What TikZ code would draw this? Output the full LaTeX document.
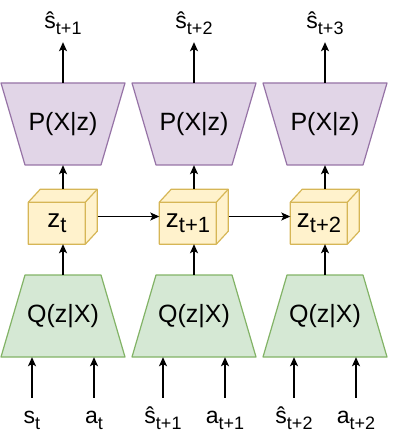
\documentclass[tikz,border=0pt]{standalone}
\usepackage{fontspec}
\setmainfont{Liberation Sans}
\usetikzlibrary{arrows.meta}

\definecolor{pfill}{HTML}{E1D5E7}
\definecolor{pstroke}{HTML}{9673A6}
\definecolor{qfill}{HTML}{D5E8D4}
\definecolor{qstroke}{HTML}{82B366}
\definecolor{zfill}{HTML}{FFF2CC}
\definecolor{zstroke}{HTML}{D6B656}

% subscripts as text
\newcommand{\lsub}[1]{\raisebox{-6pt}{\fontsize{18}{18}\selectfont #1}}
\newcommand{\zsub}[1]{\raisebox{-5pt}{\fontsize{22}{22}\selectfont #1}}

\tikzset{
  trapbox/.style={minimum width=124pt, minimum height=82pt, inner sep=0pt,
    font=\fontsize{25}{30}\selectfont},
  pface/.style={draw=pstroke, fill=pfill, line width=1.2pt, line join=round},
  qface/.style={draw=qstroke, fill=qfill, line width=1.2pt, line join=round},
  zcube/.style={minimum width=69pt, minimum height=55pt, inner sep=0pt},
  zface/.style={draw=zstroke, fill=zfill, line width=1.2pt, line join=round},
  ztext/.style={inner sep=0pt, font=\fontsize{26}{30}\selectfont},
  outlab/.style={anchor=base, inner sep=0pt, text depth=13pt, font=\fontsize{23}{26}\selectfont},
  inlab/.style={anchor=base, inner sep=0pt, text height=25pt, font=\fontsize{23}{26}\selectfont},
  arr/.style={->, line width=1.2pt}
}

\begin{document}
\begin{tikzpicture}[x=1pt, y=-1pt, >={Stealth[length=9pt,width=8pt,inset=2pt]}]
  \useasboundingbox (0,0) rectangle (415,438);

  % one column per time step
  \foreach \i/\cx/\zt/\sl/\al in {1/63/t/s\lsub{t}/a\lsub{t},
      2/194/t+1/ŝ\lsub{t+1}/a\lsub{t+1},
      3/325/t+2/ŝ\lsub{t+2}/a\lsub{t+2}}{
    % decoder (wide on top)
    \path[pface] (\cx-62,83) -- (\cx+62,83) -- (\cx+38,165) -- (\cx-38,165) -- cycle;
    \node[trapbox] (p\i) at (\cx,124) {P(X|z)};
    % encoder (wide at the bottom)
    \path[qface] (\cx-38,275) -- (\cx+38,275) -- (\cx+62,357) -- (\cx-62,357) -- cycle;
    \node[trapbox] (q\i) at (\cx,316) {Q(z|X)};

    % latent cube
    \node[zcube] (z\i) at (\cx,216.5) {};
    \filldraw[zface] (z\i.south west) -- ++(0,-42) -- ++(12,-13) -- ++(57,0)
      -- ++(0,42) -- ++(-12,13) -- cycle;
    \draw[zface, fill=none] (z\i.south west) ++(0,-42) -- ++(57,0) -- ++(12,-13)
      ++(-12,13) -- ++(0,42);
    \node[ztext] (zt\i) at ([xshift=-6pt, yshift=-6.5pt]z\i.center) {z\zsub{\zt}};

    % outputs and inputs
    \node[outlab] (o\i) at (\cx,29) {ŝ\lsub{t+\i}};
    \node[inlab] (s\i) at (\cx-31,423) {\sl};
    \node[inlab] (a\i) at (\cx+31,423) {\al};

    \draw[arr] (p\i.north) -- (o\i.south);
    \draw[arr] (z\i.north) -- (p\i.south);
    \draw[arr] (q\i.north) -- (z\i.south);
    \draw[arr] (s\i.north) -- (s\i.north |- q\i.south);
    \draw[arr] (a\i.north) -- (a\i.north |- q\i.south);
  }

  % transitions between latent states
  \draw[arr] (z1.east) -- (z2.west);
  \draw[arr] (z2.east) -- (z3.west);

\end{tikzpicture}
\end{document}
